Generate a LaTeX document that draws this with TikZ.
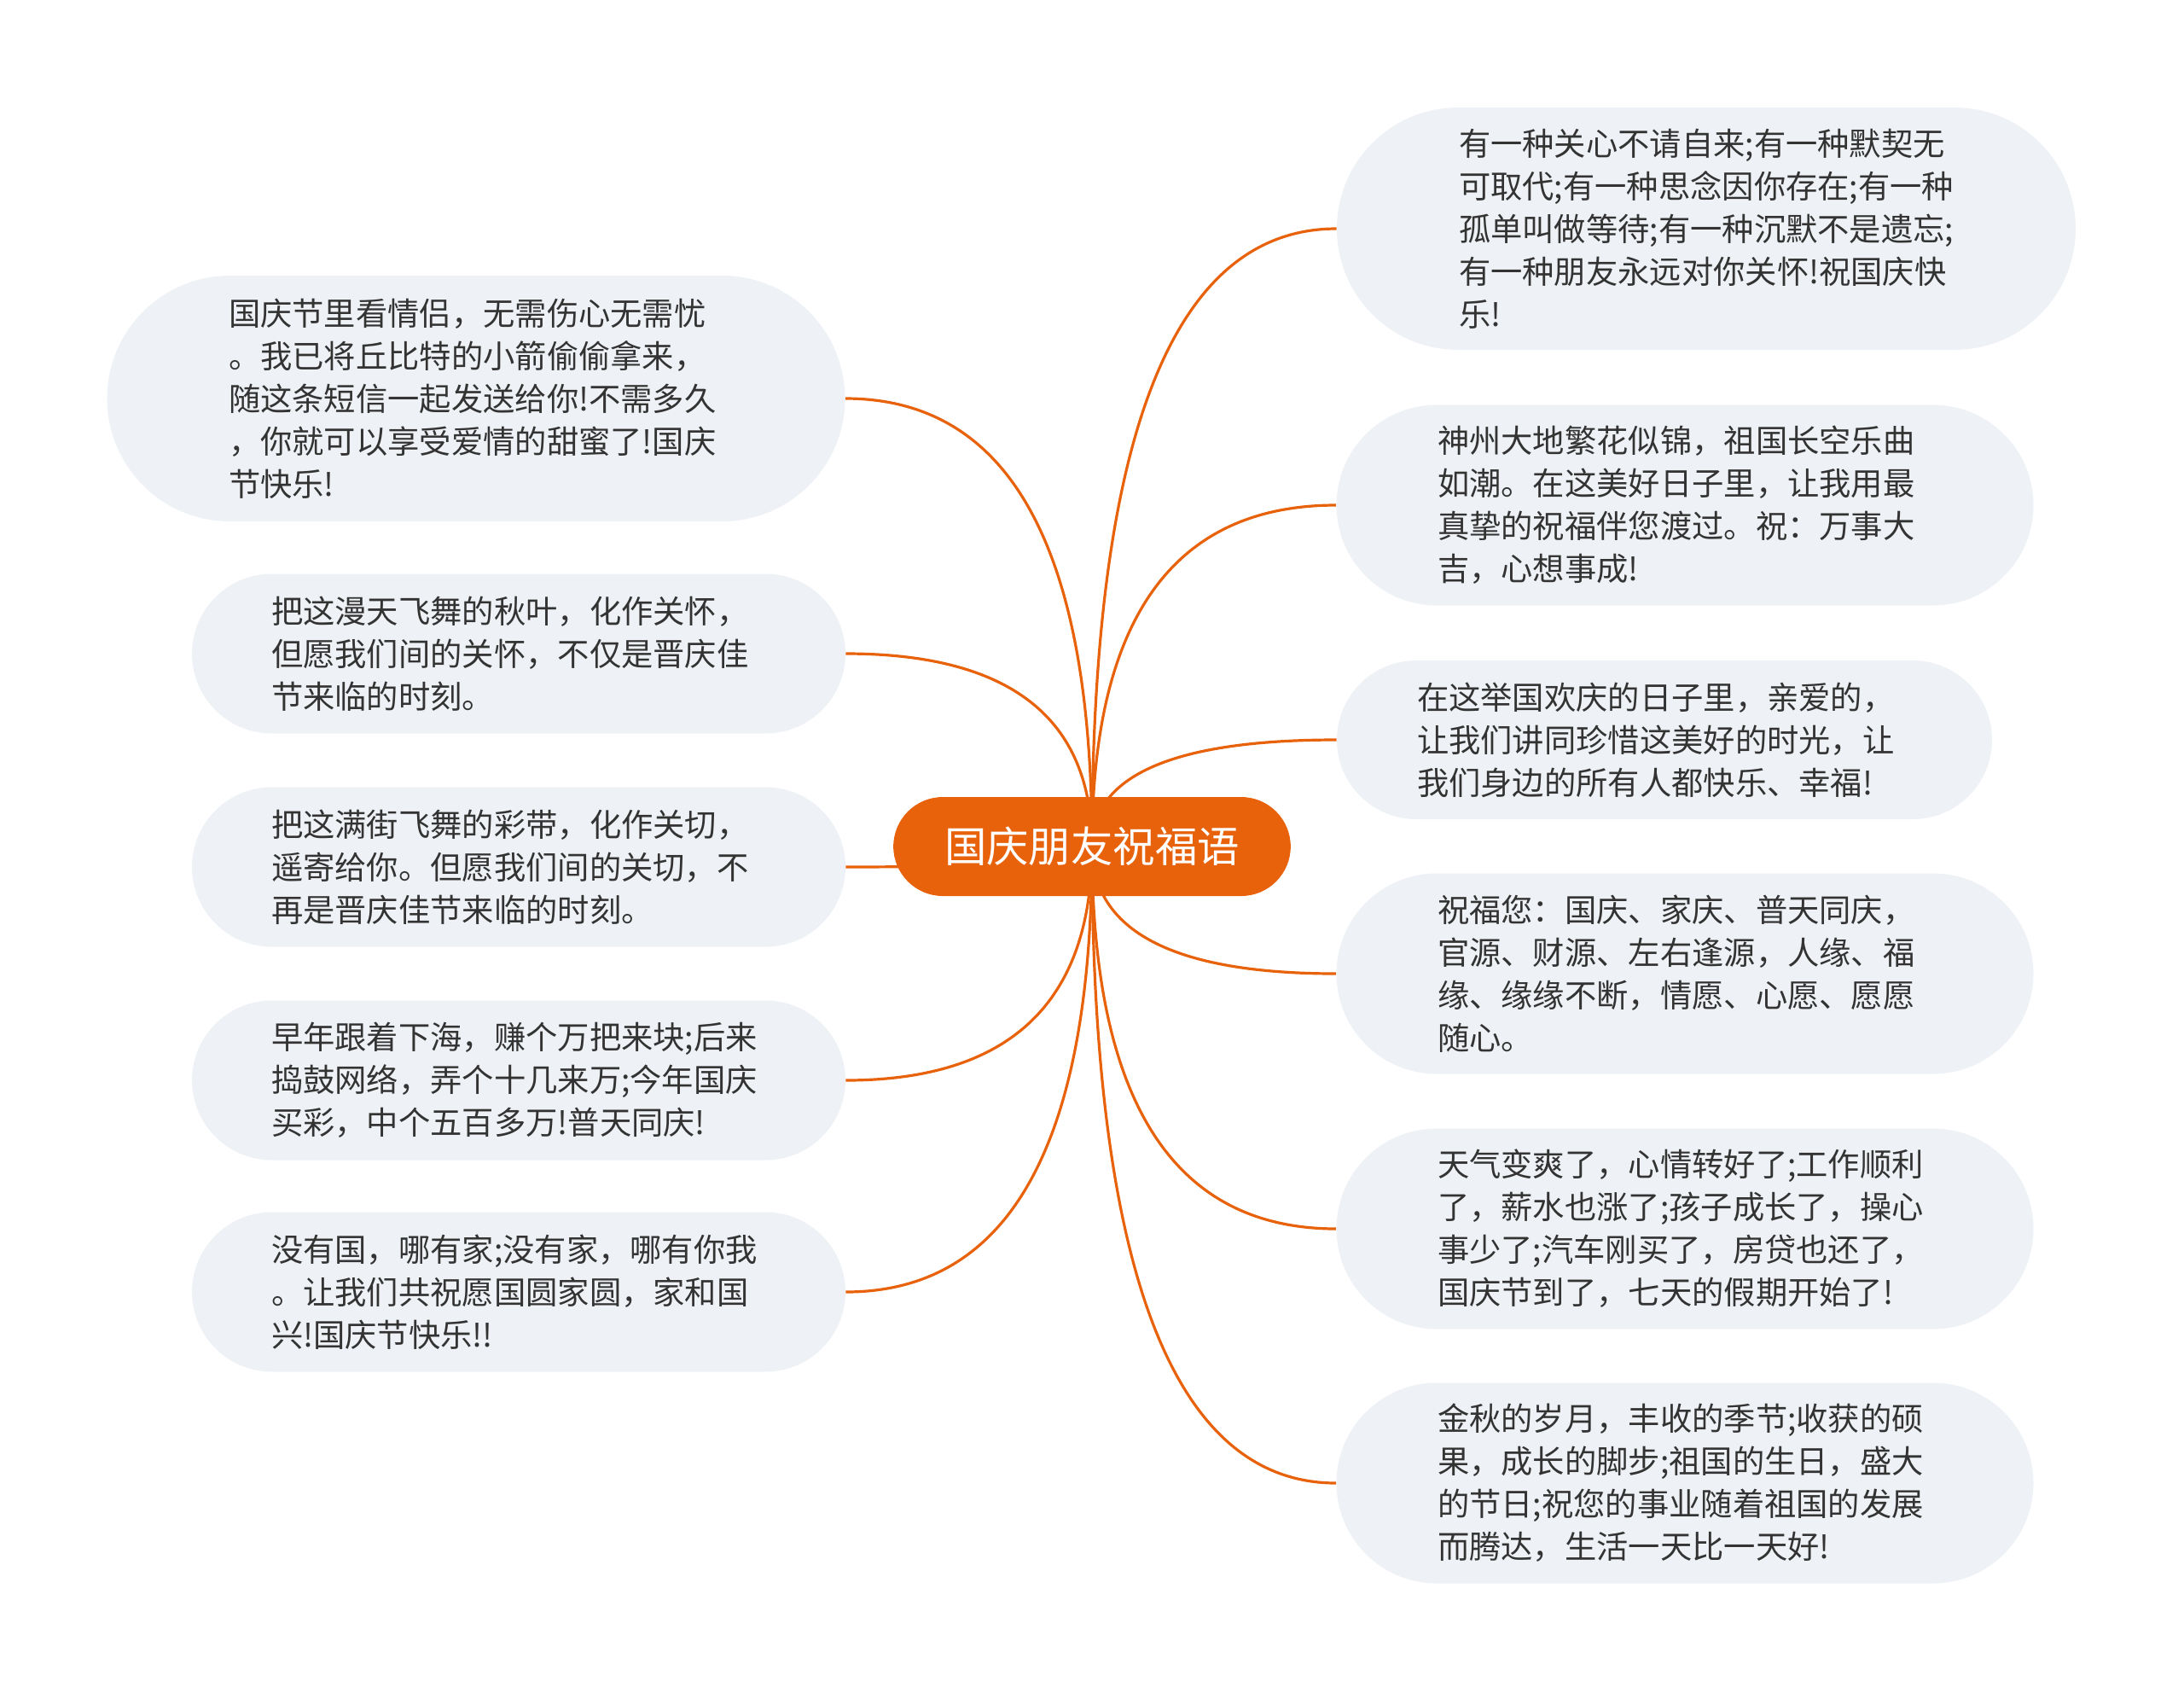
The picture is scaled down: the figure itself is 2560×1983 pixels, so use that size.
\documentclass[tikz,border=0pt]{standalone}
\usepackage{fontspec}
\setmainfont{Noto Sans CJK SC}
\usetikzlibrary{shapes.misc,backgrounds,calc}

\definecolor{rootorange}{RGB}{232,98,12}
\definecolor{leafgray}{RGB}{238,241,245}
\definecolor{leaftext}{RGB}{51,51,51}

\tikzset{
	leaf/.style={rounded rectangle, fill=leafgray, text=leaftext, align=left, inner sep=0pt,
		text width=290pt, font=\fontsize{18.65pt}{25pt}\selectfont},
	link/.style={draw=rootorange, line width=1.6pt},
}

\begin{document}
\begin{tikzpicture}[x=0.5pt,y=-0.5pt]
\useasboundingbox (0,0) rectangle (2560,1983);

\node[rounded rectangle, fill=rootorange, text=white, minimum width=239.5pt, minimum height=58pt,
	font=\fontsize{24.7pt}{30pt}\selectfont] (root) at (1280,992) {国庆朋友祝福语};

% left side
\node[leaf, minimum width=432.5pt, minimum height=144pt] (l1) at (558,467) {
	国庆节里看情侣，无需伤心无需忧\\。我已将丘比特的小箭偷偷拿来，\\随这条短信一起发送给你!不需多久\\，你就可以享受爱情的甜蜜了!国庆\\节快乐!};
\node[leaf, minimum width=383pt, minimum height=93.5pt] (l2) at (608,766) {
	把这漫天飞舞的秋叶，化作关怀，\\但愿我们间的关怀，不仅是晋庆佳\\节来临的时刻。};
\node[leaf, minimum width=383pt, minimum height=93.5pt] (l3) at (608,1016) {
	把这满街飞舞的彩带，化作关切，\\遥寄给你。但愿我们间的关切，不\\再是晋庆佳节来临的时刻。};
\node[leaf, minimum width=383pt, minimum height=93.5pt] (l4) at (608,1266) {
	早年跟着下海，赚个万把来块;后来\\捣鼓网络，弄个十几来万;今年国庆\\买彩，中个五百多万!普天同庆!};
\node[leaf, minimum width=383pt, minimum height=93.5pt] (l5) at (608,1514) {
	没有国，哪有家;没有家，哪有你我\\。让我们共祝愿国圆家圆，家和国\\兴!国庆节快乐!!};

% right side
\node[leaf, minimum width=433pt, minimum height=142pt] (r1) at (2000,268) {
	有一种关心不请自来;有一种默契无\\可取代;有一种思念因你存在;有一种\\孤单叫做等待;有一种沉默不是遗忘;\\有一种朋友永远对你关怀!祝国庆快\\乐!};
\node[leaf, minimum width=408.5pt, minimum height=117.5pt] (r2) at (1975,592) {
	神州大地繁花似锦，祖国长空乐曲\\如潮。在这美好日子里，让我用最\\真挚的祝福伴您渡过。祝：万事大\\吉，心想事成!};
\node[leaf, minimum width=384pt, minimum height=93pt] (r3) at (1951,867) {
	在这举国欢庆的日子里，亲爱的，\\让我们讲同珍惜这美好的时光，让\\我们身边的所有人都快乐、幸福!};
\node[leaf, minimum width=408.5pt, minimum height=117.5pt] (r4) at (1975,1141) {
	祝福您：国庆、家庆、普天同庆，\\官源、财源、左右逢源，人缘、福\\缘、缘缘不断，情愿、心愿、愿愿\\随心。};
\node[leaf, minimum width=408.5pt, minimum height=117.5pt] (r5) at (1975,1440) {
	天气变爽了，心情转好了;工作顺利\\了，薪水也涨了;孩子成长了，操心\\事少了;汽车刚买了，房贷也还了，\\国庆节到了，七天的假期开始了!};
\node[leaf, minimum width=408.5pt, minimum height=117.5pt] (r6) at (1975,1738) {
	金秋的岁月，丰收的季节;收获的硕\\果，成长的脚步;祖国的生日，盛大\\的节日;祝您的事业随着祖国的发展\\而腾达，生活一天比一天好!};

% quadratic curves from the centre of the root
\begin{scope}[on background layer]
	\foreach \n/\a in {l1/east,l2/east,l3/east,l4/east,l5/east,r1/west,r2/west,r3/west,r4/west,r5/west,r6/west}
		\draw[link] (root.center)
			.. controls ($(root.center)!2/3!(root.center |- \n.\a)$) and ($(\n.\a)!2/3!(root.center |- \n.\a)$)
			.. (\n.\a);
\end{scope}
\end{tikzpicture}
\end{document}
